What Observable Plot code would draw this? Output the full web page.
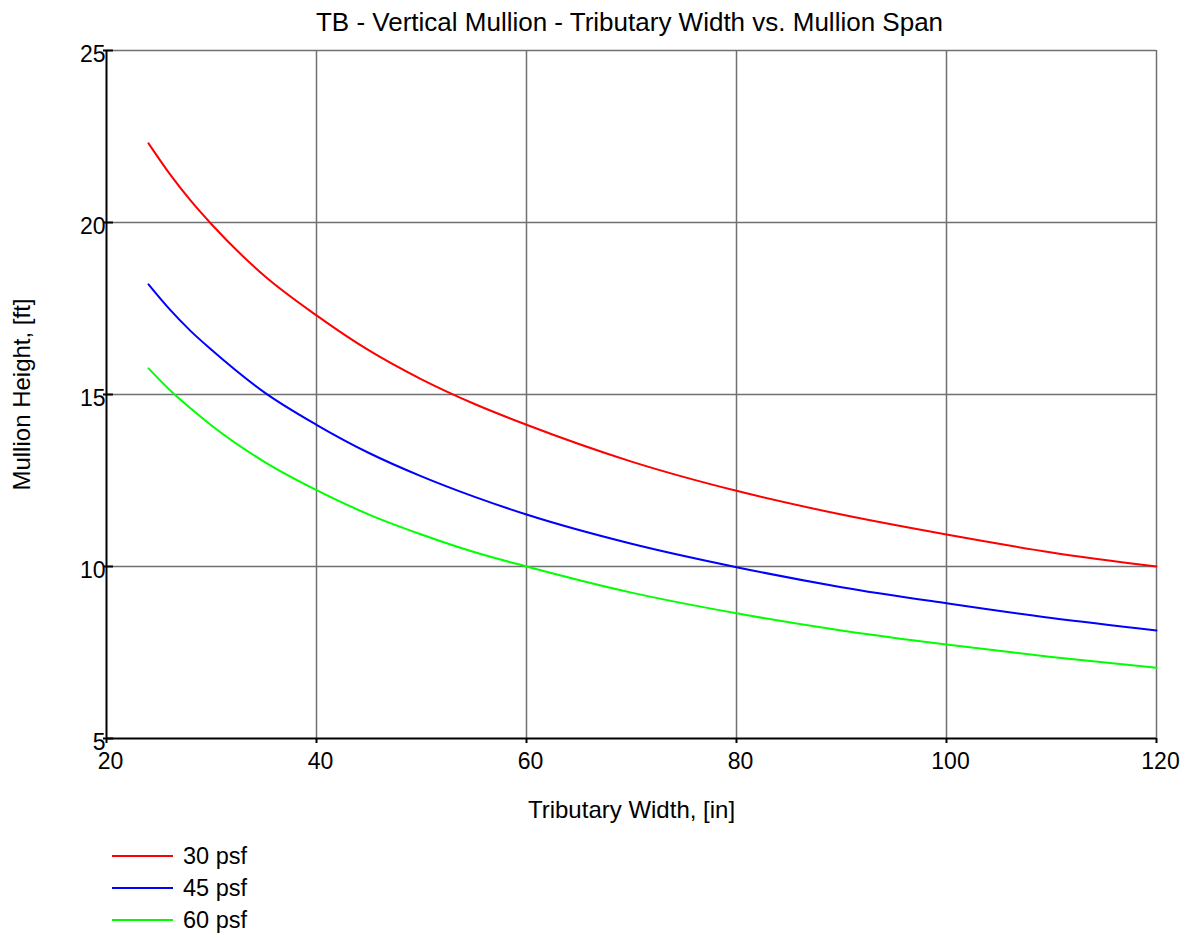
<!DOCTYPE html>
<html><head><meta charset="utf-8">
<script src="https://cdn.jsdelivr.net/npm/d3@7"></script>
<script src="https://cdn.jsdelivr.net/npm/@observablehq/plot@0.6"></script>
<style>
body{margin:0;background:#fff;font-family:"Liberation Sans",Arial,sans-serif;color:#000;}
#legend{padding-left:112px;}
.row{height:32px;display:flex;align-items:center;font-size:23.5px;}
.sw{width:61px;height:2px;margin-right:10px;}
</style></head><body>
<div id="chart"></div>
<div id="legend"></div>
<script>
const widths = [24, 26, 28, 30, 35, 40, 45, 50, 55, 60, 70, 80, 90, 100, 110, 120];
const h30psf = [22.3, 21.42, 20.64, 19.95, 18.46, 17.3, 16.28, 15.44, 14.73, 14.12, 13.05, 12.2, 11.51, 10.93, 10.41, 10.0];
const h45psf = [18.2, 17.48, 16.85, 16.3, 15.07, 14.12, 13.3, 12.62, 12.03, 11.51, 10.66, 9.98, 9.4, 8.93, 8.5, 8.14];
const h60psf = [15.76, 15.14, 14.6, 14.1, 13.05, 12.22, 11.51, 10.93, 10.42, 10.0, 9.24, 8.64, 8.14, 7.73, 7.37, 7.06];
const seriesNames = ["30 psf", "45 psf", "60 psf"];
const seriesColors = ["#ff0000", "#0000ff", "#00ff00"];
const xTicks = [20, 40, 60, 80, 100, 120];
const yTicks = [5, 10, 15, 20, 25];
const titleText = "TB - Vertical Mullion - Tributary Width vs. Mullion Span";
const xLabel = "Tributary Width, [in]";
const yLabel = "Mullion Height, [ft]";

const allSeries = [h30psf, h45psf, h60psf];
const data = [];
allSeries.forEach((vals, i) => vals.forEach((v, j) => data.push({w: widths[j], h: v, s: seriesNames[i]})));

const grid = {stroke: "#707070", strokeOpacity: 1, strokeWidth: 1.5};
const chart = Plot.plot({
  width: 1189, height: 840,
  marginLeft: 106, marginRight: 33, marginTop: 50, marginBottom: 102,
  style: {fontFamily: "'Liberation Sans', Arial, sans-serif", fontSize: "23px", background: "#fff", color: "#000"},
  x: {domain: [20, 120]},
  y: {domain: [5, 25]},
  color: {domain: seriesNames, range: seriesColors},
  marks: [
    Plot.gridX(xTicks.slice(1), grid),
    Plot.gridY(yTicks.slice(1), grid),
    Plot.line(data, {x: "w", y: "h", z: "s", stroke: "s", strokeWidth: 2, curve: "monotone-x"}),
    Plot.ruleX([20], {stroke: "#000", strokeWidth: 2}),
    Plot.ruleY([5], {stroke: "#000", strokeWidth: 2}),
    Plot.tickY(yTicks, {y: d => d, insetLeft: -3, insetRight: 1043, stroke: "#000", strokeWidth: 2}),
    Plot.tickX(xTicks, {x: d => d, insetTop: 688, insetBottom: -5, stroke: "#000", strokeWidth: 2}),
    Plot.axisX(xTicks, {tickSize: 0, tickPadding: 14, dx: 4, label: null, fontSize: 23}),
    Plot.axisY(yTicks, {tickSize: 0, tickPadding: 1, dy: 4, label: null, fontSize: 23}),
    Plot.text([titleText], {frameAnchor: "top", dy: -38, dx: -2, fontSize: 26}),
    Plot.text([xLabel], {frameAnchor: "bottom", dy: 79, fontSize: 24}),
    Plot.text([yLabel], {frameAnchor: "left", dx: -84, rotate: -90, textAnchor: "middle", fontSize: 24})
  ]
});
document.getElementById("chart").append(chart);

const legend = document.getElementById("legend");
seriesNames.forEach((name, i) => {
  const row = document.createElement("div");
  row.className = "row";
  const sw = document.createElement("div");
  sw.className = "sw";
  sw.style.background = seriesColors[i];
  const lab = document.createElement("span");
  lab.textContent = name;
  row.append(sw, lab);
  legend.append(row);
});
</script>
</body></html>
